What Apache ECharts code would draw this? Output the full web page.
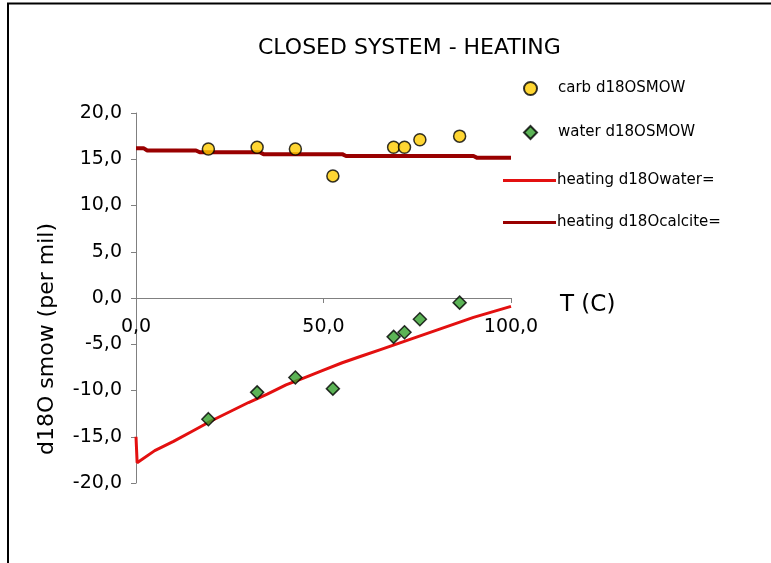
<!DOCTYPE html>
<html>
<head>
<meta charset="utf-8">
<script src="https://cdn.jsdelivr.net/npm/echarts@6/dist/echarts.min.js"></script>
<style>
  html, body { margin: 0; padding: 0; background: #fff; }
  #chart { width: 771px; height: 563px; }
</style>
</head>
<body>
<div id="chart"></div>
<script>
// ---- data ----
const sampleTempC = [19.3, 32.3, 42.5, 52.5, 68.7, 71.6, 75.7, 86.3];
const carbD18OSMOW = [16.1, 16.3, 16.1, 13.2, 16.3, 16.3, 17.1, 17.5];
const waterD18OSMOW = [-13.1, -10.2, -8.6, -9.8, -4.2, -3.7, -2.3, -0.5];

const heatingWaterT = [0, 0.3, 5, 10, 15, 20, 25, 30, 35, 40, 45, 50, 55, 60, 65, 70, 75, 80, 85, 90, 95, 100];
const heatingWaterD18O = [-15.0, -17.8, -16.5, -15.5, -14.4, -13.3, -12.3, -11.3, -10.4, -9.4, -8.6, -7.8, -7.0, -6.3, -5.6, -4.9, -4.2, -3.5, -2.8, -2.1, -1.5, -0.9];

const heatingCalciteT = [0, 2, 3, 16, 17, 33, 34, 55, 56, 90, 91, 100];
const heatingCalciteD18O = [16.2, 16.2, 15.95, 15.95, 15.75, 15.75, 15.55, 15.55, 15.35, 15.35, 15.15, 15.15];

const xTickValues = [0, 50, 100];
const yTickValues = [-20, -15, -10, -5, 0, 5, 10, 15, 20];

const seriesNames = ['carb d18OSMOW', 'water d18OSMOW', 'heating d18Owater=', 'heating d18Ocalcite='];

const zip = (xs, ys) => xs.map((x, i) => [x, ys[i]]);
const fmt = v => v.toFixed(1).replace('.', ',');
const FONT = 'DejaVu Sans';

const GRID_TOP = 113, GRID_BOTTOM = 80, H = 563;
// shift the x axis up to y = 0 of the value axis
const plotH = H - GRID_TOP - GRID_BOTTOM;
const zeroFromBottom = plotH * (0 - yTickValues[0]) / (yTickValues[yTickValues.length - 1] - yTickValues[0]);

const chart = echarts.init(document.getElementById('chart'), null, { renderer: 'canvas' });
chart.setOption({
  animation: false,
  backgroundColor: '#ffffff',
  textStyle: { fontFamily: FONT },
  title: {
    text: 'CLOSED SYSTEM - HEATING',
    left: 258,
    top: 37,
    padding: 0,
    textStyle: { fontFamily: FONT, fontSize: 22, fontWeight: 'normal', color: '#000' }
  },
  legend: [
    {
      orient: 'vertical',
      left: 518,
      top: 76,
      itemWidth: 13,
      itemHeight: 13,
      itemGap: 29,
      selectedMode: false,
      data: [seriesNames[0], seriesNames[1]],
      textStyle: { fontFamily: FONT, fontSize: 15, color: '#000', padding: [0, 0, 0, 16] }
    },
    {
      orient: 'vertical',
      left: 498,
      top: 168,
      itemWidth: 53,
      itemHeight: 3,
      itemGap: 27,
      selectedMode: false,
      data: [
        { name: seriesNames[2], icon: 'rect' },
        { name: seriesNames[3], icon: 'rect' }
      ],
      textStyle: { fontFamily: FONT, fontSize: 15, color: '#000', padding: [0, 0, 0, -4] }
    }
  ],
  grid: {
    left: 136, right: 260, top: GRID_TOP, bottom: GRID_BOTTOM,
    containLabel: false,
    outerBoundsMode: 'none'
  },
  xAxis: {
    type: 'value',
    position: 'bottom',
    offset: -zeroFromBottom,
    min: xTickValues[0],
    max: xTickValues[xTickValues.length - 1],
    interval: xTickValues[1] - xTickValues[0],
    name: 'T (C)',
    nameLocation: 'end',
    nameGap: 49,
    nameTextStyle: { fontFamily: FONT, fontSize: 23, color: '#000', align: 'left', verticalAlign: 'top', lineHeight: 14 },
    axisLine: { onZero: false, lineStyle: { color: '#808080', width: 1 } },
    axisTick: { show: true, inside: false, length: 5, lineStyle: { color: '#808080' } },
    axisLabel: { formatter: fmt, fontFamily: FONT, fontSize: 19, color: '#000', margin: 20 },
    splitLine: { show: false }
  },
  yAxis: {
    type: 'value',
    min: yTickValues[0],
    max: yTickValues[yTickValues.length - 1],
    interval: yTickValues[1] - yTickValues[0],
    axisLine: { show: true, onZero: false, lineStyle: { color: '#808080', width: 1 } },
    axisTick: { show: true, inside: false, length: 5, lineStyle: { color: '#808080' } },
    axisLabel: { formatter: fmt, fontFamily: FONT, fontSize: 19, color: '#000', margin: 14 },
    splitLine: { show: false }
  },
  graphic: [
    {
      type: 'polyline',
      shape: { points: [[8, 563], [8, 3.5], [771, 3.5]] },
      style: { stroke: '#000', lineWidth: 2, fill: null },
      silent: true
    },
    {
      type: 'text',
      x: 47, y: 339,
      rotation: Math.PI / 2,
      style: {
        text: 'd18O smow (per mil)',
        fontFamily: FONT, fontSize: 22, fill: '#000',
        align: 'center', verticalAlign: 'middle'
      },
      silent: true
    }
  ],
  series: [
    {
      name: seriesNames[0],
      type: 'scatter',
      data: zip(sampleTempC, carbD18OSMOW),
      symbol: 'circle',
      symbolSize: 12,
      itemStyle: { color: '#FFCC00', borderColor: '#000', borderWidth: 1.5 },
      z: 5
    },
    {
      name: seriesNames[1],
      type: 'scatter',
      data: zip(sampleTempC, waterD18OSMOW),
      symbol: 'diamond',
      symbolSize: 13,
      itemStyle: { color: '#33A02C', borderColor: '#000', borderWidth: 1.5 },
      z: 5
    },
    {
      name: seriesNames[2],
      type: 'line',
      data: zip(heatingWaterT, heatingWaterD18O),
      symbol: 'none',
      lineStyle: { color: '#E31010', width: 3 },
      itemStyle: { color: '#E31010' },
      z: 3
    },
    {
      name: seriesNames[3],
      type: 'line',
      data: zip(heatingCalciteT, heatingCalciteD18O),
      symbol: 'none',
      lineStyle: { color: '#990000', width: 4 },
      itemStyle: { color: '#990000' },
      z: 3
    }
  ]
});
</script>
</body>
</html>
